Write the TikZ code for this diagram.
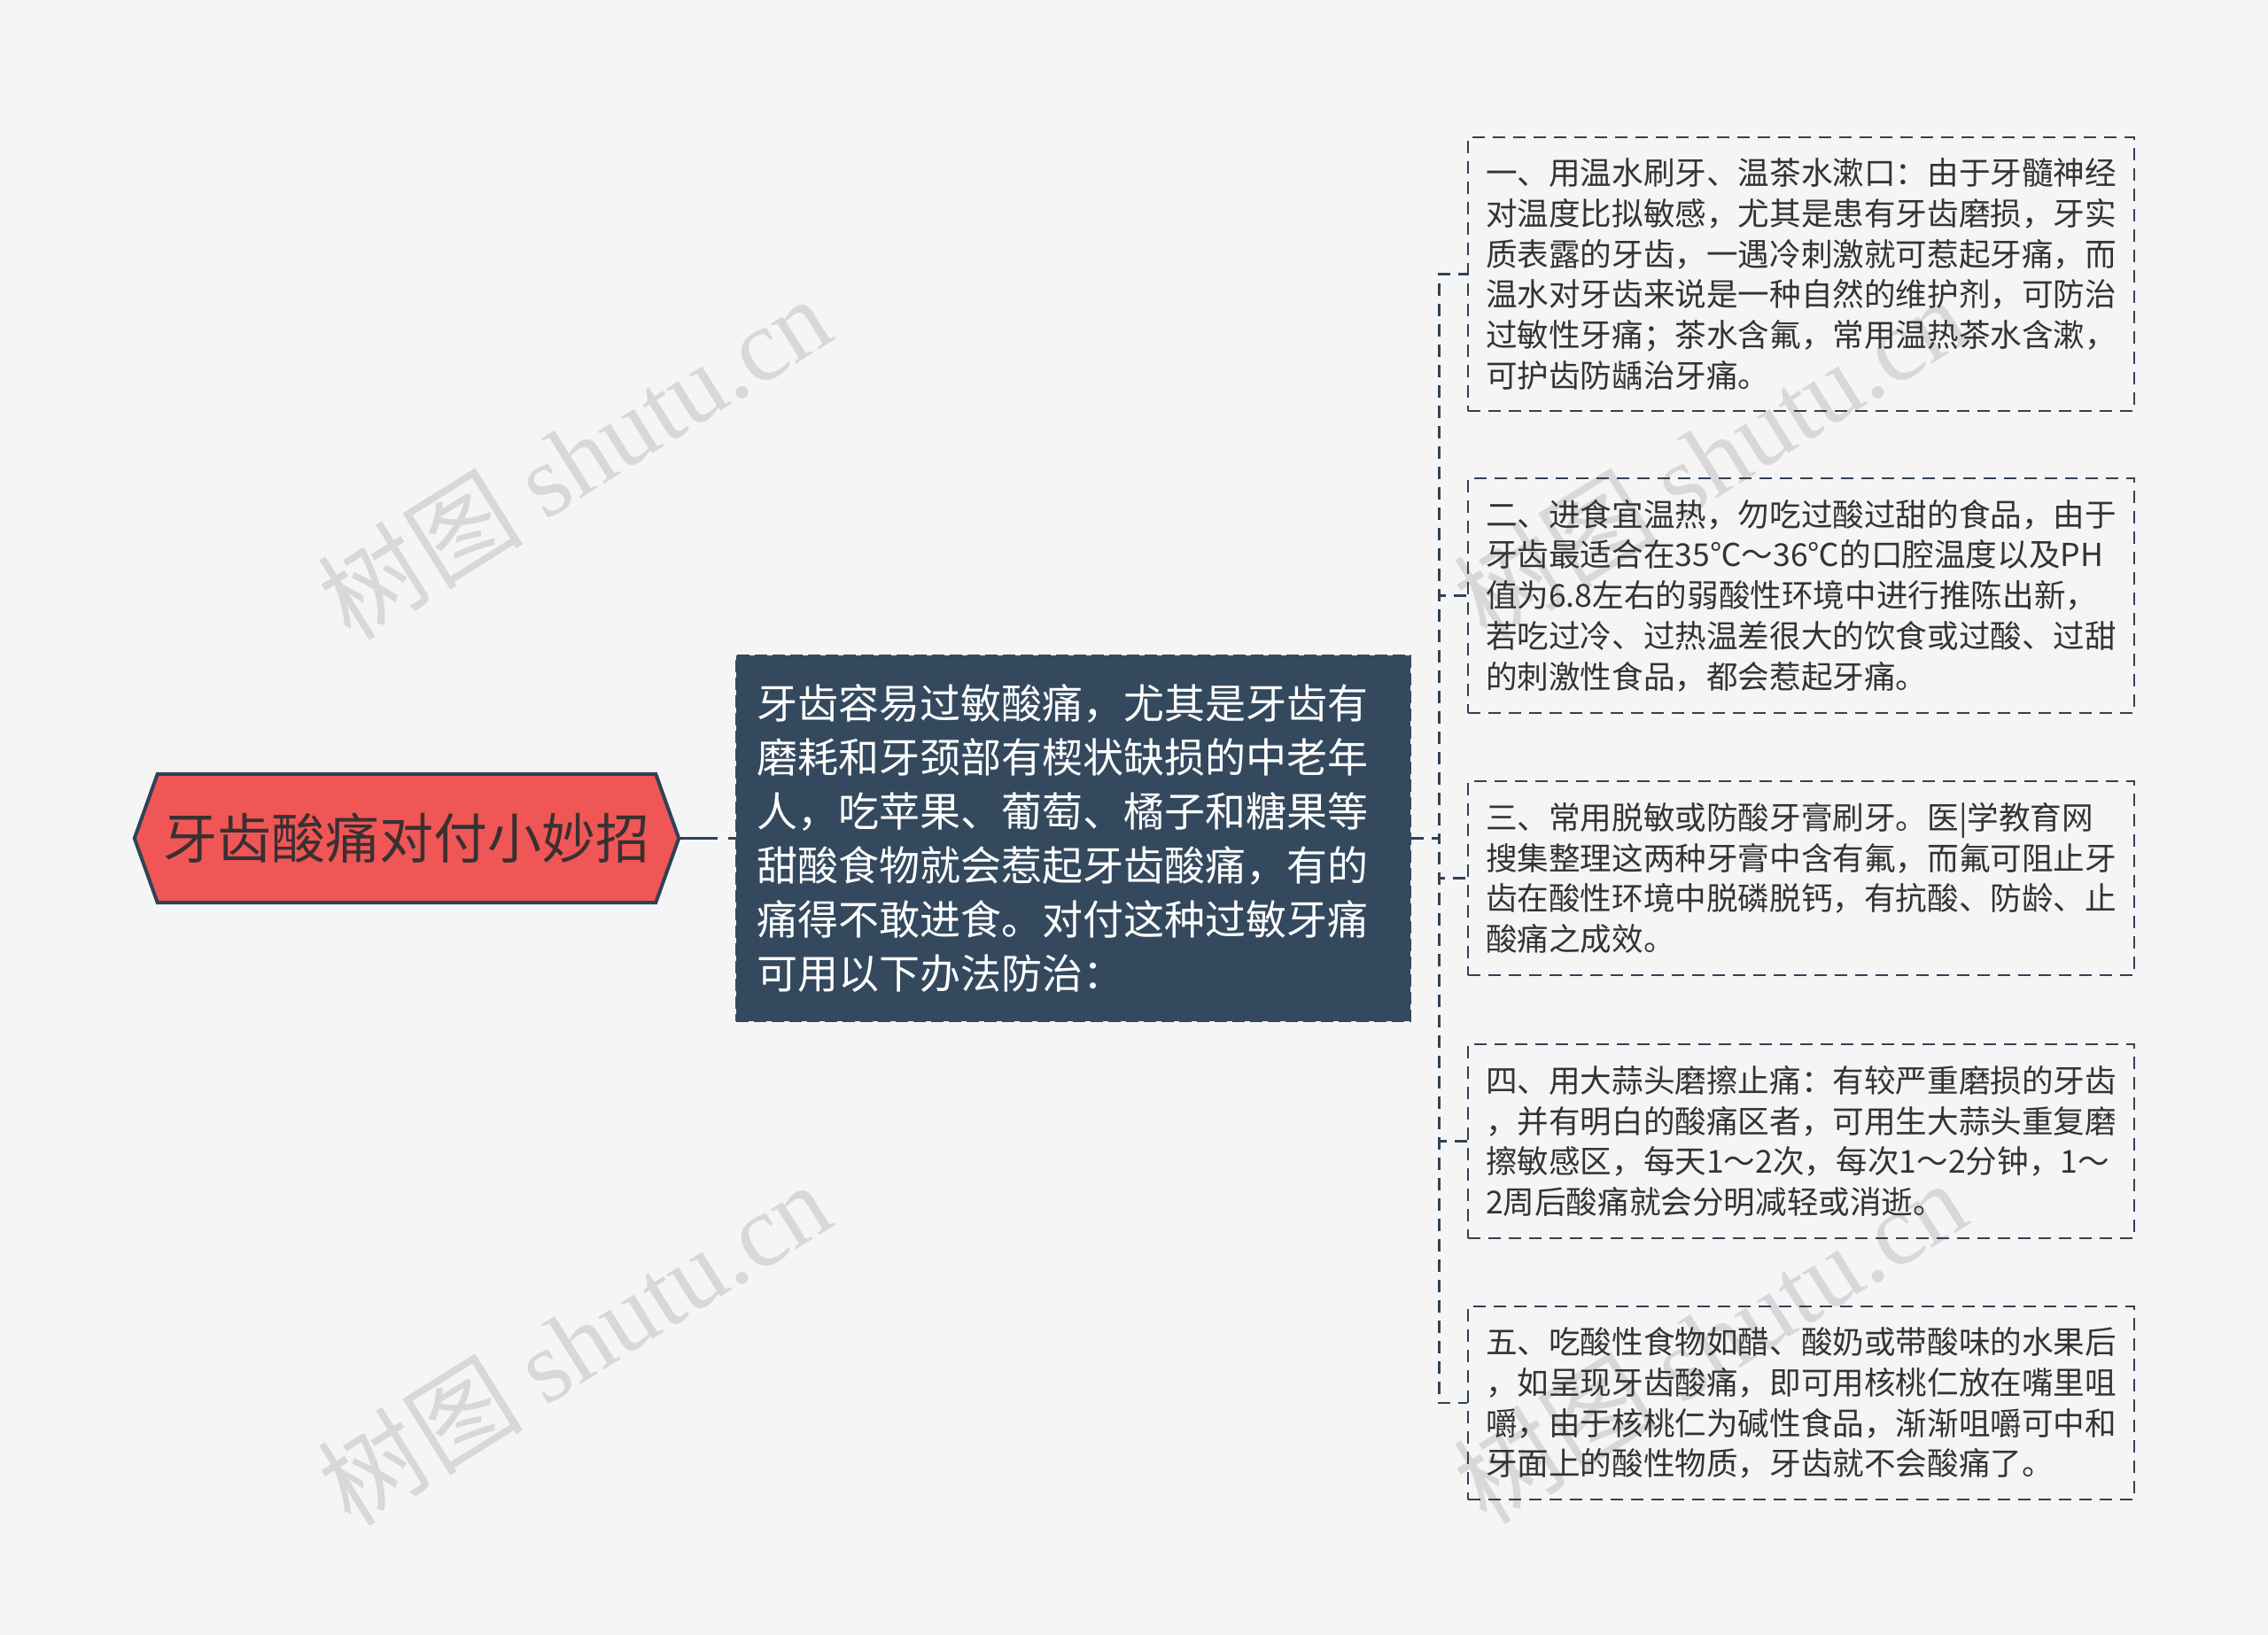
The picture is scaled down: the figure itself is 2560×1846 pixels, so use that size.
\documentclass[tikz,border=0pt]{standalone}
\usepackage{fontspec}
\setmainfont{Noto Sans CJK SC}
\newfontfamily\wmserif{Liberation Serif}
\usetikzlibrary{calc}
\definecolor{bgc}{HTML}{F5F5F5}
\definecolor{rootred}{HTML}{F05656}
\definecolor{navy}{HTML}{2F4257}
\definecolor{mainfill}{HTML}{34495E}
\definecolor{txt}{HTML}{333333}
\definecolor{roottxt}{HTML}{3A3030}
\definecolor{wmc}{HTML}{D8D8D8}
\pgfdeclarelayer{back}
\pgfdeclarelayer{bg}
\pgfsetlayers{back,bg,main}
\begin{document}
\begin{tikzpicture}[x=1pt,y=-1pt,
  rootnode/.style={minimum width=562pt,minimum height=145pt,inner sep=0pt,
    text=roottxt,font=\fontsize{61}{70}\selectfont},
  hexstyle/.style={fill=rootred,draw=navy,line width=4pt,line join=miter},
  mainbox/.style={fill=mainfill,draw=mainfill,line width=2.5pt,dash pattern=on 14pt off 6pt,
    text width=715pt,inner xsep=23pt,inner ysep=0pt,minimum height=413pt,align=left,
    text=white,font=\fontsize{46}{61}\selectfont},
  childbox/.style={draw=navy,line width=2.5pt,dash pattern=on 14pt off 9pt,
    text width=712pt,inner xsep=20pt,inner ysep=0pt,align=left,
    text=txt,font=\fontsize{35.6}{45.7}\selectfont},
  conn/.style={draw=navy,line width=2.5pt,dash pattern=on 14pt off 9pt},
  rootconn/.style={draw=navy,line width=3pt,dash pattern=on 44pt off 12pt},
  wm/.style={text=wmc,rotate=32,inner sep=0pt,font=\fontsize{116}{120}\selectfont}
]
\begin{pgfonlayer}{back}
\fill[bgc] (0,0) rectangle (2560,1846);
\node[wm] (wm1) at (648,516) {树图 {\wmserif shutu.cn}};
\node[wm] (wm2) at (648,1516) {树图 {\wmserif shutu.cn}};
\node[wm] (wm3) at (1930,516) {树图 {\wmserif shutu.cn}};
\node[wm] (wm4) at (1930,1514) {树图 {\wmserif shutu.cn}};
\end{pgfonlayer}
\useasboundingbox (0,0) rectangle (2560,1846);

\node[rootnode] (root) at (459,946.5) {牙齿酸痛对付小妙招};
\begin{pgfonlayer}{bg}
\draw[hexstyle] ([xshift=-26pt]root.west) -- (root.north west) -- (root.north east)
  -- ([xshift=26pt]root.east) -- (root.south east) -- (root.south west) -- cycle;
\end{pgfonlayer}
\coordinate (roottip) at ([xshift=26pt]root.east);

\node[mainbox] (main) at (1211.5,946.5) {牙齿容易过敏酸痛，尤其是牙齿有\\磨耗和牙颈部有楔状缺损的中老年\\人，吃苹果、葡萄、橘子和糖果等\\甜酸食物就会惹起牙齿酸痛，有的\\痛得不敢进食。对付这种过敏牙痛\\可用以下办法防治：};

\node[childbox,minimum height=309pt] (c1) at (2033,309.5) {一、用温水刷牙、温茶水漱口：由于牙髓神经\\对温度比拟敏感，尤其是患有牙齿磨损，牙实\\质表露的牙齿，一遇冷刺激就可惹起牙痛，而\\温水对牙齿来说是一种自然的维护剂，可防治\\过敏性牙痛；茶水含氟，常用温热茶水含漱，\\可护齿防龋治牙痛。};
\node[childbox,minimum height=265pt] (c2) at (2033,672.5) {二、进食宜温热，勿吃过酸过甜的食品，由于\\牙齿最适合在35℃～36℃的口腔温度以及PH\\值为6.8左右的弱酸性环境中进行推陈出新，\\若吃过冷、过热温差很大的饮食或过酸、过甜\\的刺激性食品，都会惹起牙痛。};
\node[childbox,minimum height=219pt] (c3) at (2033,991.5) {三、常用脱敏或防酸牙膏刷牙。医|学教育网\\搜集整理这两种牙膏中含有氟，而氟可阻止牙\\齿在酸性环境中脱磷脱钙，有抗酸、防龄、止\\酸痛之成效。};
\node[childbox,minimum height=219pt] (c4) at (2033,1288.5) {四、用大蒜头磨擦止痛：有较严重磨损的牙齿\\，并有明白的酸痛区者，可用生大蒜头重复磨\\擦敏感区，每天1～2次，每次1～2分钟，1～\\2周后酸痛就会分明减轻或消逝。};
\node[childbox,minimum height=218pt] (c5) at (2033,1584) {五、吃酸性食物如醋、酸奶或带酸味的水果后\\，如呈现牙齿酸痛，即可用核桃仁放在嘴里咀\\嚼，由于核桃仁为碱性食品，渐渐咀嚼可中和\\牙面上的酸性物质，牙齿就不会酸痛了。};

\draw[rootconn] (roottip) -- (main.west);
\foreach \c in {c1,c2,c3,c4,c5}
  \draw[conn] (main.east) -- ++(31,0) |- (\c.west);
\end{tikzpicture}
\end{document}
